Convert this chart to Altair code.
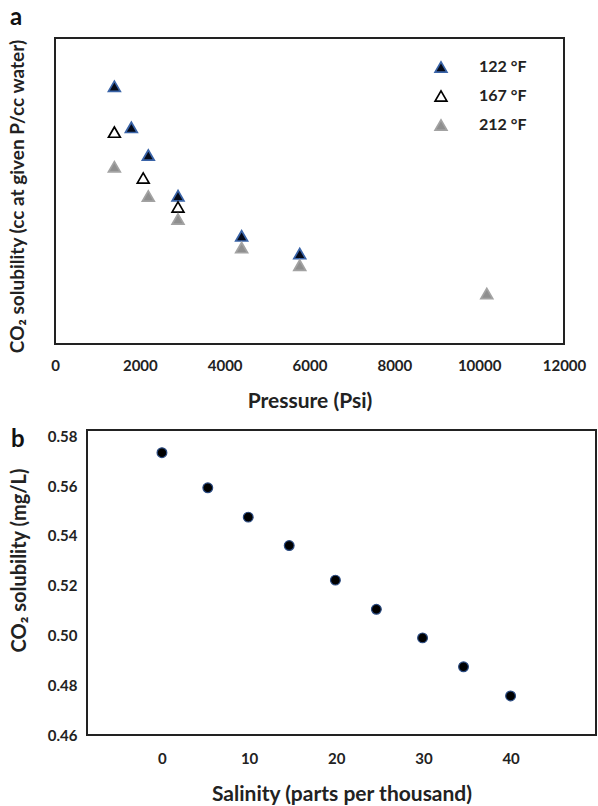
import altair as alt
import pandas as pd

# Panel a data
series_122 = "122 °F"
series_167 = "167 °F"
series_212 = "212 °F"
p122 = [1400, 1800, 2200, 2900, 4400, 5770]
s122 = [252.7, 212.4, 185.2, 145.4, 106.0, 88.6]
p167 = [1400, 2080, 2900]
s167 = [207.7, 162.7, 134.3]
p212 = [1400, 2200, 2900, 4400, 5770, 10180]
s212 = [173.8, 145.1, 122.6, 94.5, 77.3, 49.5]

# Panel b data
salinity = [0, 5.26, 9.9, 14.6, 19.9, 24.6, 29.9, 34.6, 40.0]
sol_b = [0.5734, 0.5593, 0.5475, 0.5361, 0.5222, 0.5105, 0.4990, 0.4874, 0.4757]

x_ticks_a = [0, 2000, 4000, 6000, 8000, 10000, 12000]
x_ticks_b = [0, 10, 20, 30, 40]
y_ticks_b = [0.46, 0.48, 0.50, 0.52, 0.54, 0.56, 0.58]

rows = []
for name, ps, ss in [(series_122, p122, s122), (series_167, p167, s167), (series_212, p212, s212)]:
    for p, s in zip(ps, ss):
        rows.append({"series": name, "pressure": p, "sol": s})
df_a = pd.DataFrame(rows)
df_b = pd.DataFrame({"salinity": salinity, "sol": sol_b})

FONT = "Lato"
TICK = 15
XTITLE = 21
YTITLE = 19
W = 509

series_scale_fill = alt.Scale(domain=[series_122, series_167, series_212],
                              range=["#050a18", "#ffffff", "#8f8f8f"])
series_scale_stroke = alt.Scale(domain=[series_122, series_167, series_212],
                                range=["#3a64a8", "#000000", "#a3a3a3"])

pts_a = alt.Chart(df_a).mark_point(shape="triangle-up", size=140, filled=True,
                                   strokeWidth=1.7, opacity=1).encode(
    x=alt.X("pressure:Q", scale=alt.Scale(domain=[0, 12000], nice=False),
            axis=alt.Axis(values=x_ticks_a, format="d", title="Pressure (Psi)", domain=False,
                          ticks=False, grid=False, labelFontSize=TICK, labelFontWeight="bold",
                          labelFont=FONT, labelPadding=14, labelFlush=False, labelOverlap=False,
                          titleFont=FONT, titleFontSize=XTITLE, titleFontWeight="bold",
                          titleY=57, titleBaseline="middle", labelColor="#222", titleColor="#222")),
    y=alt.Y("sol:Q", scale=alt.Scale(domain=[0, 300], nice=False),
            axis=alt.Axis(labels=False, ticks=False, domain=False, grid=False,
                          title="CO₂ solubility (cc at given P/cc water)",
                          titleFont=FONT, titleFontSize=YTITLE, titleFontWeight="bold",
                          titleX=-38, titleY=158, titleBaseline="middle", titleColor="#222")),
    fill=alt.Fill("series:N", scale=series_scale_fill,
                  legend=alt.Legend(title=None, orient="none", legendX=429, legendY=21,
                                    labelFont=FONT, labelFontSize=16, labelFontWeight="bold",
                                    labelColor="#222", symbolSize=140, symbolStrokeWidth=1.7,
                                    rowPadding=11, labelOffset=30, padding=0)),
    stroke=alt.Stroke("series:N", scale=series_scale_stroke, legend=None),
)

label_a = alt.Chart(pd.DataFrame({"t": ["a"]})).mark_text(
    align="left", baseline="top", font=FONT, fontSize=24, fontWeight="bold", color="#111"
).encode(x=alt.value(-45), y=alt.value(-32), text="t:N")

chart_a = alt.layer(pts_a, label_a).properties(width=W, height=306)

pts_b = alt.Chart(df_b).mark_circle(size=95, color="#000000", stroke="#2a4a80",
                                    strokeWidth=1.2, opacity=1).encode(
    x=alt.X("salinity:Q", scale=alt.Scale(domain=[-8.6, 49.8], nice=False, zero=False),
            axis=alt.Axis(values=x_ticks_b, title="Salinity (parts per thousand)", domain=False,
                          ticks=False, grid=False, labelFontSize=TICK, labelFontWeight="bold",
                          labelFont=FONT, labelPadding=16, labelFlush=False,
                          titleFont=FONT, titleFontSize=XTITLE, titleFontWeight="bold",
                          titleY=59, titleBaseline="middle", labelColor="#222", titleColor="#222")),
    y=alt.Y("sol:Q", scale=alt.Scale(domain=[0.46, 0.5825], nice=False, zero=False),
            axis=alt.Axis(values=y_ticks_b, format=".2f", title="CO₂ solubility (mg/L)",
                          domain=False, ticks=False, grid=False, labelFontSize=TICK,
                          labelFontWeight="bold", labelFont=FONT, labelPadding=10,
                          labelFlush=False, labelOverlap=False, labelColor="#222",
                          titleFont=FONT, titleFontSize=20, titleFontWeight="bold",
                          titleX=-68, titleY=130, titleBaseline="middle", titleColor="#222")),
)

label_b = alt.Chart(pd.DataFrame({"t": ["b"]})).mark_text(
    align="left", baseline="top", font=FONT, fontSize=24, fontWeight="bold", color="#111"
).encode(x=alt.value(-76), y=alt.value(-2), text="t:N")

chart_b = alt.layer(pts_b, label_b).properties(width=W, height=305)


def spacer(w):
    return alt.Chart(pd.DataFrame({"v": [0]})).mark_point(opacity=0).encode(
        x=alt.value(0), y=alt.value(0)
    ).properties(width=w, height=1, view=alt.ViewBackground(stroke="transparent", strokeWidth=0))


row_a = alt.hconcat(spacer(1), chart_a, spacing=0)
row_b = alt.hconcat(spacer(3), chart_b, spacing=0)

chart = alt.vconcat(row_a, row_b, spacing=15).properties(
    padding={"left": 1, "top": 5, "right": 0, "bottom": 0}
).configure_view(stroke="#222", strokeWidth=2)

chart.save("out.html", embed_options={"renderer": "svg", "actions": False})
